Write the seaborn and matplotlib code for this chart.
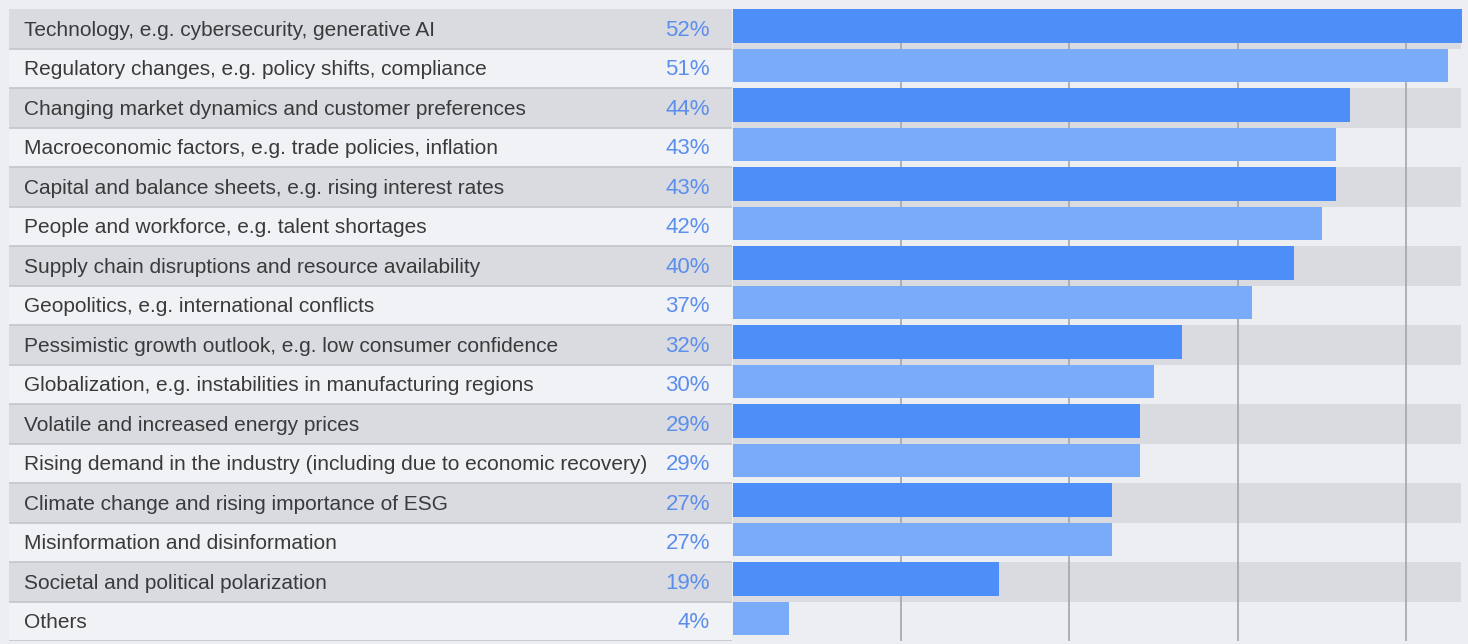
import matplotlib
matplotlib.use("Agg")
import matplotlib.pyplot as plt
import seaborn as sns
import pandas as pd

categories = [
    "Technology, e.g. cybersecurity, generative AI",
    "Regulatory changes, e.g. policy shifts, compliance",
    "Changing market dynamics and customer preferences",
    "Macroeconomic factors, e.g. trade policies, inflation",
    "Capital and balance sheets, e.g. rising interest rates",
    "People and workforce, e.g. talent shortages",
    "Supply chain disruptions and resource availability",
    "Geopolitics, e.g. international conflicts",
    "Pessimistic growth outlook, e.g. low consumer confidence",
    "Globalization, e.g. instabilities in manufacturing regions",
    "Volatile and increased energy prices",
    "Rising demand in the industry (including due to economic recovery)",
    "Climate change and rising importance of ESG",
    "Misinformation and disinformation",
    "Societal and political polarization",
    "Others",
]
values = [52, 51, 44, 43, 43, 42, 40, 37, 32, 30, 29, 29, 27, 27, 19, 4]
grid_ticks = [12, 24, 36, 48]

BG = "#eceef2"
BAND = "#d9dbe0"
DARK = "#4d8ef8"
LIGHT = "#7aabf8"
PCT = "#5c8eec"

sns.set_theme(style="white")
plt.rcParams["font.family"] = ["Liberation Sans", "DejaVu Sans"]

df = pd.DataFrame({"category": categories, "value": values})
n = len(categories)
off = 0.07  # bars sit at the top of each row band

fig = plt.figure(figsize=(14.68, 6.44), dpi=100, facecolor=BG)
W, H = 1468, 644
top, bot = 9, 641
ax_l = fig.add_axes([9 / W, (H - bot) / H, (732 - 9) / W, (bot - top) / H])
ax = fig.add_axes([733 / W, (H - bot) / H, (1462 - 733) / W, (bot - top) / H])

for a in (ax_l, ax):
    a.set_facecolor("none")
    for s in a.spines.values():
        s.set_visible(False)

# label panel
ax_l.set_xlim(0, 1)
for i, (cat, v) in enumerate(zip(categories, values)):
    lo, hi = i - 0.5 + off, i + 0.5 + off
    ax_l.axhspan(lo, hi, color=BAND if i % 2 == 0 else "#f1f2f5", lw=0, zorder=0)
    ax_l.axhline(hi, color="#c3c5ca", lw=1.2, zorder=1)
    ax_l.text(15 / 723, i + off + 0.04, cat, va="center", ha="left", fontsize=15, color="#3a3a3a")
    ax_l.text(701 / 723, i + off + 0.04, f"{v}%", va="center", ha="right", fontsize=16, color=PCT)
ax_l.set_ylim(n - 0.5 + off, -0.5 + off)
ax_l.set_xticks([])
ax_l.set_yticks([])

# bar panel
for i in range(0, n, 2):
    ax.axhspan(i - 0.5 + off, i + 0.5 + off, xmin=0, xmax=0.998, color=BAND, lw=0, zorder=0)
for g in grid_ticks:
    ax.axvline(g, color="#a3a5aa", lw=1.2, zorder=0.5)

palette = [DARK if i % 2 == 0 else LIGHT for i in range(n)]
sns.barplot(data=df, x="value", y="category", hue="category", palette=palette,
            legend=False, orient="h", width=0.86, ax=ax, saturation=1,
            linewidth=0, edgecolor="none", zorder=2)
ax.set_xlim(0, 52)
ax.set_ylim(n - 0.5 + off, -0.5 + off)
ax.set_xticks([])
ax.set_yticks([])
ax.set_xlabel("")
ax.set_ylabel("")

fig.savefig("out.png", dpi=100, facecolor=BG)
